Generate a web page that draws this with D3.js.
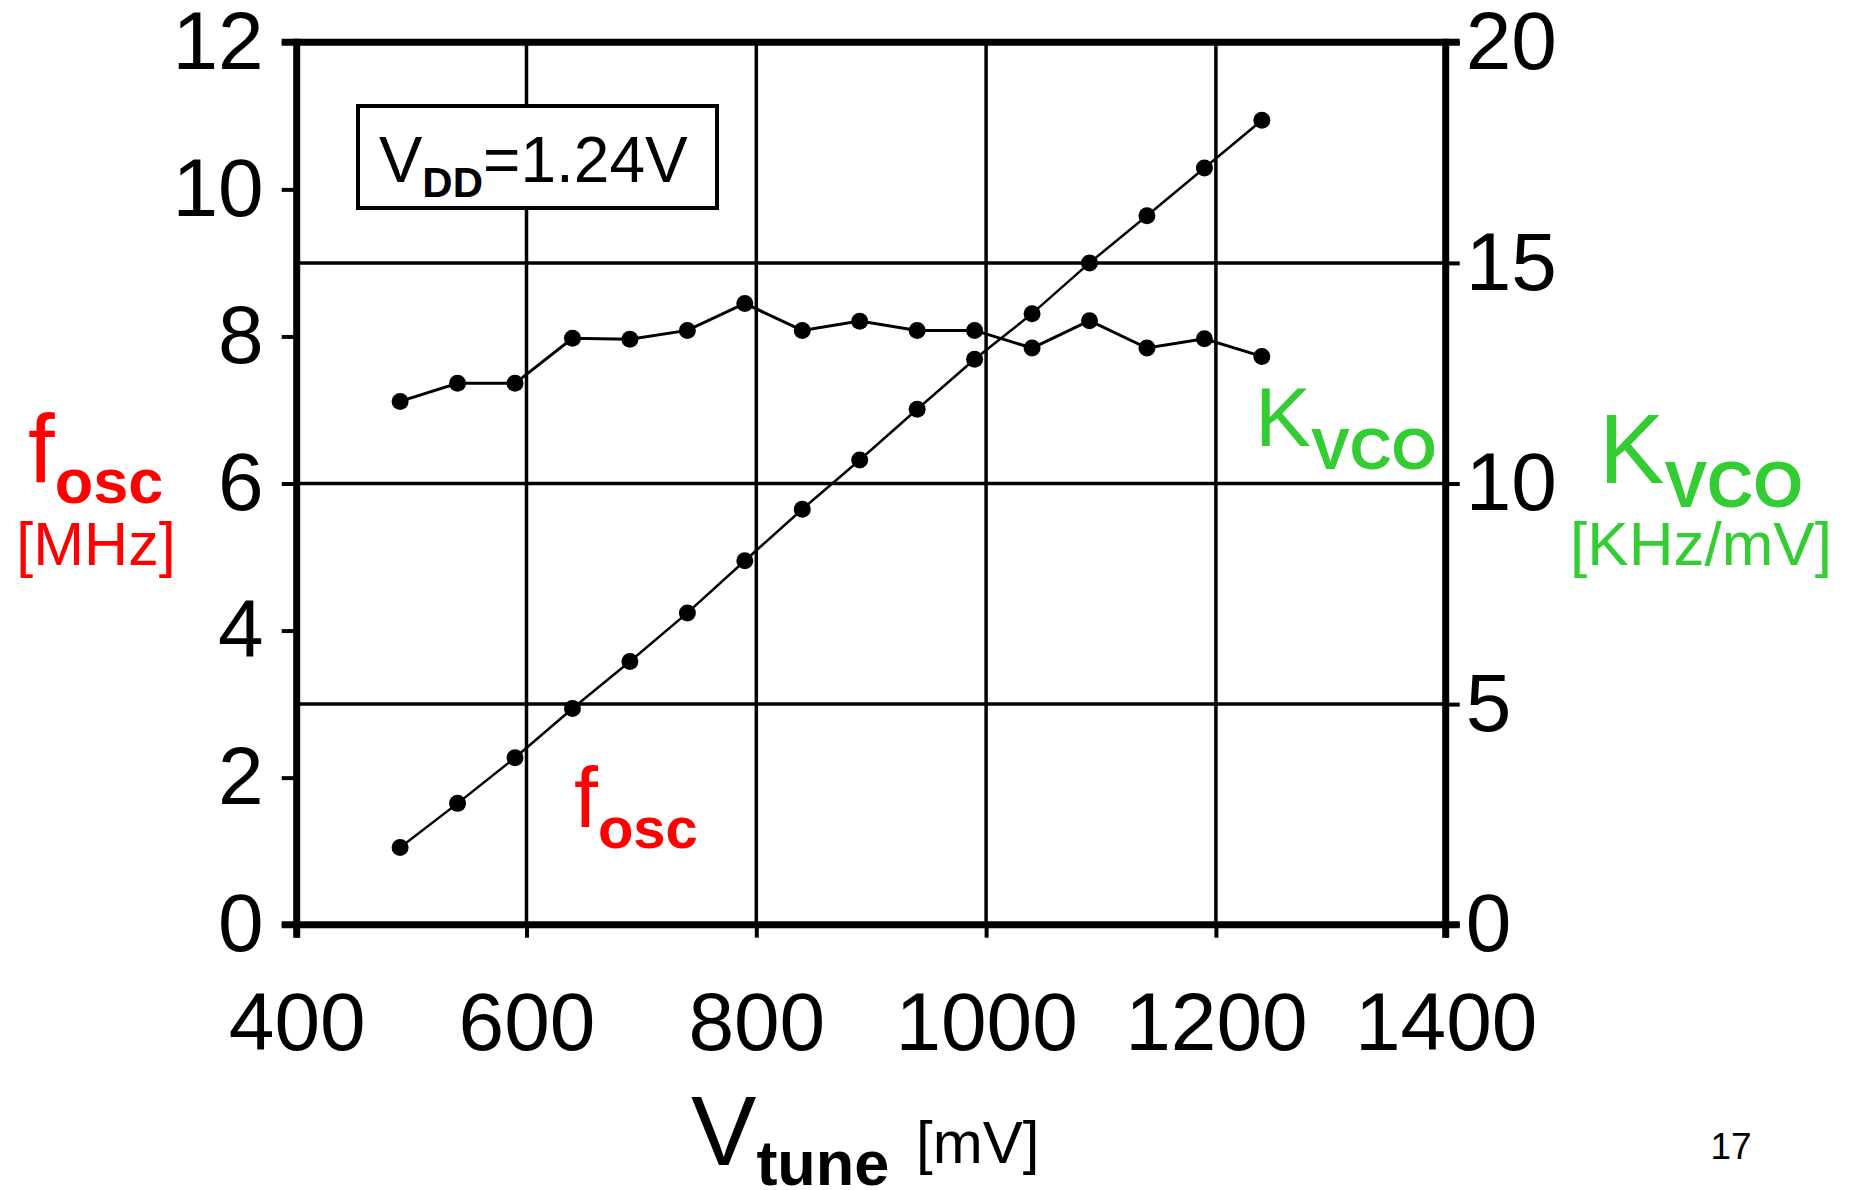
<!DOCTYPE html>
<html>
<head>
<meta charset="utf-8">
<script src="https://cdn.jsdelivr.net/npm/d3@7"></script>
<style>
  body { margin: 0; background: #fff; }
  svg text { font-family: "Liberation Sans", Arial, sans-serif; }
</style>
</head>
<body>
<div id="chart"></div>
<script>
// data
const vtune = [490, 540, 590, 640, 690, 740, 790, 840, 890, 940, 990, 1040, 1090, 1140, 1190, 1240];
const fosc = [1.05, 1.65, 2.27, 2.94, 3.58, 4.24, 4.95, 5.65, 6.32, 7.01, 7.69, 8.31, 9.0, 9.64, 10.29, 10.94];
const kvco = [11.86, 12.27, 12.27, 13.29, 13.27, 13.47, 14.08, 13.47, 13.68, 13.47, 13.47, 13.07, 13.69, 13.07, 13.28, 12.88];

const xTicks = [400, 600, 800, 1000, 1200, 1400];
const leftTicks = [0, 2, 4, 6, 8, 10, 12];
const rightTicks = [0, 5, 10, 15, 20];
const xGrid = [600, 800, 1000, 1200];
const rightGrid = [5, 10, 15];

const RED = "#ff0000";
const GREEN = "#33cc33";

const width = 1851;
const height = 1190;
const plot = { left: 296.7, right: 1445.7, top: 42.3, bottom: 924.7 };

const svg = d3.select("#chart").append("svg")
    .attr("width", width)
    .attr("height", height)
    .style("display", "block");

svg.append("rect").attr("width", width).attr("height", height).attr("fill", "#fff");

// Scales
const xScale = d3.scaleLinear().domain([400, 1400]).range([plot.left, plot.right]);
const yLeft = d3.scaleLinear().domain([0, 12]).range([plot.bottom, plot.top]);
const yRight = d3.scaleLinear().domain([0, 20]).range([plot.bottom, plot.top]);

// Grid
const grid = svg.append("g").attr("stroke", "#000").attr("stroke-width", 3.5);
xGrid.forEach(v => {
    grid.append("line")
        .attr("x1", xScale(v)).attr("x2", xScale(v))
        .attr("y1", plot.top).attr("y2", plot.bottom);
});
rightGrid.forEach(v => {
    grid.append("line")
        .attr("x1", plot.left).attr("x2", plot.right)
        .attr("y1", yRight(v)).attr("y2", yRight(v));
});

// Axes
function styleAxis(g, size) {
    g.select(".domain").remove();
    g.selectAll(".tick line").attr("stroke", "#000").attr("stroke-width", 4);
    g.selectAll(".tick text")
        .attr("fill", "#000")
        .style("font-size", size + "px")
        .style("font-family", '"Liberation Sans", Arial, sans-serif');
}

const xAxis = d3.axisBottom(xScale).tickValues(xTicks).tickFormat(d3.format("d"))
    .tickSize(13).tickPadding(54);
svg.append("g")
    .attr("transform", `translate(0, ${plot.bottom})`)
    .call(xAxis)
    .call(g => styleAxis(g, 82));

const leftAxis = d3.axisLeft(yLeft).tickValues(leftTicks).tickSize(15).tickPadding(18);
svg.append("g")
    .attr("transform", `translate(${plot.left}, 0)`)
    .call(leftAxis)
    .call(g => styleAxis(g, 82));

const rightAxis = d3.axisRight(yRight).tickValues(rightTicks).tickSize(14).tickPadding(6);
svg.append("g")
    .attr("transform", `translate(${plot.right}, 0)`)
    .call(rightAxis)
    .call(g => styleAxis(g, 82));

// Frame
const frame = svg.append("g").attr("stroke", "#000").attr("stroke-width", 7);
frame.append("line").attr("x1", plot.left - 15).attr("x2", plot.right + 14).attr("y1", plot.top).attr("y2", plot.top);
frame.append("line").attr("x1", plot.left - 15).attr("x2", plot.right + 14).attr("y1", plot.bottom).attr("y2", plot.bottom);
frame.append("line").attr("x1", plot.left).attr("x2", plot.left).attr("y1", plot.top - 3.5).attr("y2", plot.bottom + 13);
frame.append("line").attr("x1", plot.right).attr("x2", plot.right).attr("y1", plot.top - 3.5).attr("y2", plot.bottom + 13);

// VDD box
svg.append("rect")
    .attr("x", 358).attr("y", 106)
    .attr("width", 359).attr("height", 102)
    .attr("fill", "#fff").attr("stroke", "#000").attr("stroke-width", 4);
const vdd = svg.append("text").attr("x", 379).attr("y", 181.7).attr("fill", "#000");
vdd.append("tspan").style("font-size", "65px").text("V");
vdd.append("tspan").style("font-size", "42px").style("font-weight", "bold").attr("dy", 15).text("DD");
vdd.append("tspan").style("font-size", "64px").attr("dy", -15).text("=1.24V");

// Lines
const line = d3.line()
    .x(d => xScale(d[0]))
    .y(d => d[1]);

const foscPts = vtune.map((v, i) => [v, yLeft(fosc[i])]);
const kvcoPts = vtune.map((v, i) => [v, yRight(kvco[i])]);

svg.append("path")
    .attr("d", line(foscPts))
    .attr("fill", "none").attr("stroke", "#000").attr("stroke-width", 2.5);
svg.append("path")
    .attr("d", line(kvcoPts))
    .attr("fill", "none").attr("stroke", "#000").attr("stroke-width", 3);

// Data points
[foscPts, kvcoPts].forEach(pts => {
    svg.append("g").selectAll("circle")
        .data(pts)
        .join("circle")
        .attr("cx", d => xScale(d[0]))
        .attr("cy", d => d[1])
        .attr("r", 8.5)
        .attr("fill", "#000");
});

// Labels
function subLabel(x, y, main, sub, mainSize, subSize, dy, color) {
    const t = svg.append("text").attr("x", x).attr("y", y).attr("fill", color);
    t.append("tspan").style("font-size", mainSize + "px").text(main);
    t.append("tspan").style("font-size", subSize + "px").style("font-weight", "bold").attr("dy", dy).text(sub);
    return t;
}

// left axis title
subLabel(28, 481.7, "f", "osc", 96, 63, 21, RED);
svg.append("text").attr("x", 96).attr("y", 565).attr("text-anchor", "middle")
    .attr("fill", RED).style("font-size", "61px").text("[MHz]");

// right axis title
subLabel(1599, 483, "K", "VCO", 98, 64, 24, GREEN);
svg.append("text").attr("x", 1701).attr("y", 565).attr("text-anchor", "middle")
    .attr("fill", GREEN).style("font-size", "62px").text("[KHz/mV]");

// curve labels
subLabel(1255, 446, "K", "VCO", 84, 58, 23, GREEN);
subLabel(574, 827, "f", "osc", 86, 58, 21, RED);

// x axis title
subLabel(691, 1164.6, "V", "tune", 98, 63, 20, "#000");
svg.append("text").attr("x", 916).attr("y", 1163)
    .attr("fill", "#000").style("font-size", "60px").text("[mV]");

// page number
svg.append("text").attr("x", 1731).attr("y", 1159).attr("text-anchor", "middle")
    .attr("fill", "#000").style("font-size", "37px").text("17");
</script>
</body>
</html>
